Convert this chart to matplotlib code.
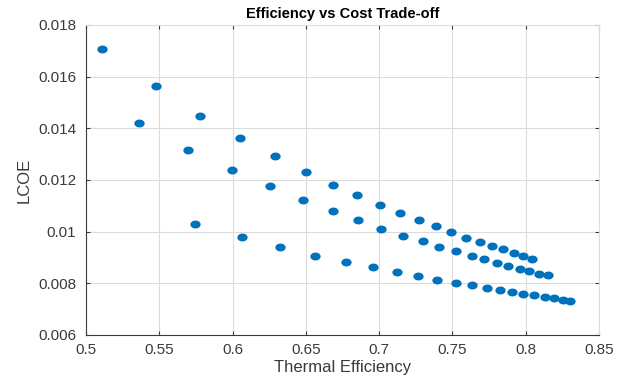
import numpy as np
import matplotlib
matplotlib.use("Agg")
import matplotlib.pyplot as plt
from matplotlib.path import Path

# --- DATA ---
eff_a = [0.511, 0.5475, 0.578, 0.6048, 0.629, 0.6499, 0.6685, 0.6852, 0.7006, 0.7145,
         0.7272, 0.7386, 0.7492, 0.7595, 0.7686, 0.7767, 0.7845, 0.7918, 0.7981, 0.8045]
lcoe_a = [0.01708, 0.01562, 0.01448, 0.01364, 0.01293, 0.01232, 0.01181, 0.01141, 0.01104, 0.01073,
          0.01044, 0.0102, 0.00999, 0.00977, 0.0096, 0.00946, 0.00932, 0.00917, 0.00905, 0.00896]

eff_b = [0.5362, 0.5698, 0.5998, 0.6255, 0.6482, 0.6682, 0.6855, 0.7014, 0.716, 0.7296,
         0.741, 0.7522, 0.7631, 0.7715, 0.7804, 0.7881, 0.7958, 0.8022, 0.809, 0.8154]
lcoe_b = [0.01421, 0.01318, 0.01238, 0.01177, 0.01124, 0.0108, 0.01044, 0.01012, 0.00984, 0.00963,
          0.00942, 0.00926, 0.00907, 0.00893, 0.00879, 0.00869, 0.00856, 0.00849, 0.00838, 0.00831]

eff_c = [0.5746, 0.6062, 0.6326, 0.6562, 0.6771, 0.6957, 0.7121, 0.7262, 0.7398, 0.7522,
         0.7631, 0.7735, 0.7822, 0.7908, 0.7981, 0.8059, 0.8131, 0.8195, 0.8254, 0.8304]
lcoe_c = [0.0103, 0.00981, 0.0094, 0.00907, 0.00884, 0.00864, 0.00844, 0.00829, 0.00813, 0.00803,
          0.00793, 0.00782, 0.00774, 0.00767, 0.0076, 0.00754, 0.00747, 0.00743, 0.00736, 0.00732]

x_ticks = [0.5, 0.55, 0.6, 0.65, 0.7, 0.75, 0.8, 0.85]
x_labels = ["0.5", "0.55", "0.6", "0.65", "0.7", "0.75", "0.8", "0.85"]
y_ticks = [0.006, 0.008, 0.01, 0.012, 0.014, 0.016, 0.018]
y_labels = ["0.006", "0.008", "0.01", "0.012", "0.014", "0.016", "0.018"]

# --- STYLE ---
plt.rcParams['font.family'] = ['Liberation Sans', 'DejaVu Sans']
dark = "#3a3a3a"
blue = "#0072BD"

# slightly wide dot, like the stretched original
t = np.linspace(0, 2 * np.pi, 40)
dot = Path(np.column_stack([1.3 * np.cos(t), np.sin(t)]))

fig = plt.figure(figsize=(6.29, 3.76), dpi=100)
ax = fig.add_axes([86 / 629, 1 - 335 / 376, 513 / 629, 310 / 376])

for xs, ys in [(eff_a, lcoe_a), (eff_b, lcoe_b), (eff_c, lcoe_c)]:
    ax.scatter(xs, ys, s=55, marker=dot, color=blue, linewidths=0, zorder=3)

ax.set_xlim(0.5, 0.85)
ax.set_ylim(0.006, 0.018)
ax.set_xticks(x_ticks, x_labels)
ax.set_yticks(y_ticks, y_labels)
ax.grid(True, color="#dcdcdc", linewidth=0.8)
ax.set_axisbelow(True)
ax.tick_params(direction="in", length=3, width=0.8, colors=dark, labelsize=11,
               top=True, right=True)
for s in ax.spines.values():
    s.set_color(dark)
    s.set_linewidth(0.8)
ax.spines['top'].set_color("#dcdcdc")
ax.spines['right'].set_color("#dcdcdc")
ax.tick_params(axis='x', pad=6)
ax.tick_params(axis='y', pad=7)

ax.set_title("Efficiency vs Cost Trade-off", fontsize=10.5, fontweight="bold", color="black", pad=5)
ax.set_xlabel("Thermal Efficiency", fontsize=12, color=dark, labelpad=2)
ax.set_ylabel("LCOE", fontsize=12, color=dark, labelpad=5)

fig.savefig("out.png", dpi=100)
